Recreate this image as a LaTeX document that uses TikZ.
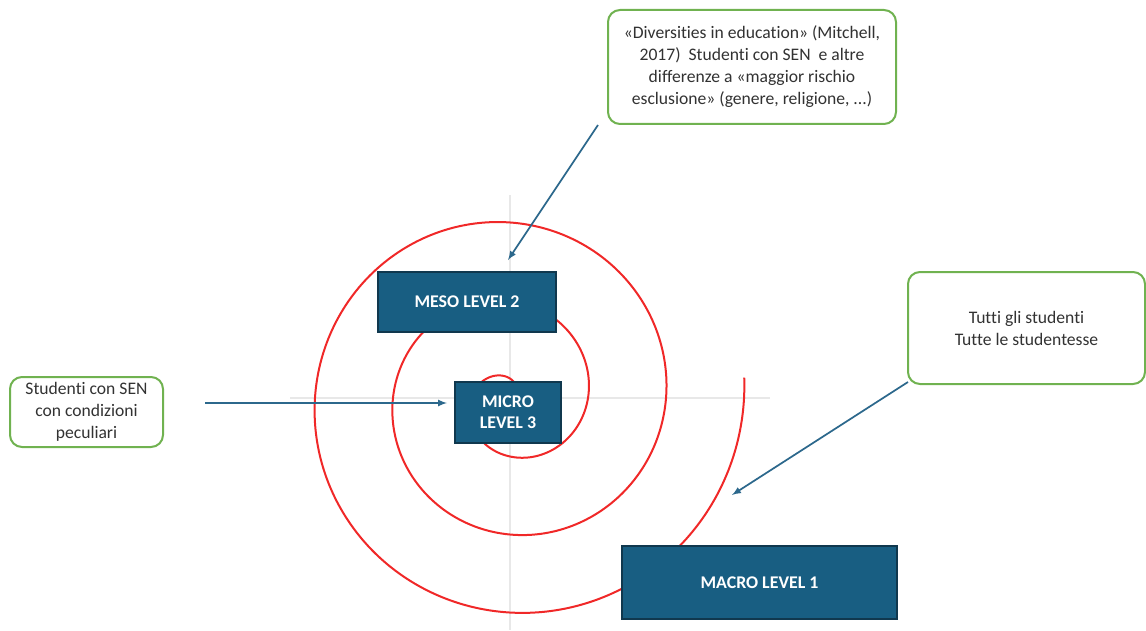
\documentclass[tikz,border=0pt]{standalone}
\usepackage{fontspec}
\setmainfont{Carlito}[Ligatures=NoCommon]
\usepackage{xcolor}
\usetikzlibrary{shapes,arrows,positioning}

\definecolor{levelblue}{RGB}{24,94,130}
\definecolor{leveledge}{RGB}{16,56,78}
\definecolor{notegreen}{RGB}{112,178,80}
\definecolor{notetext}{RGB}{50,50,50}
\definecolor{arrowblue}{RGB}{44,104,140}
\definecolor{axisgray}{RGB}{232,232,232}
\definecolor{spiralred}{RGB}{240,40,40}

\begin{document}
\begin{tikzpicture}[
    x=0.75pt, y=-0.75pt,
    level/.style={rectangle, draw=leveledge, line width=1.2pt, fill=levelblue, text=white, font=\bfseries\fontsize{13.4}{16}\selectfont, align=center, inner sep=0pt},
    note/.style={rectangle, rounded corners=9pt, draw=notegreen, line width=1.5pt, fill=white, text=notetext, font=\fontsize{13.2}{16.5}\selectfont, align=center, inner sep=0pt},
    arrow/.style={-latex, line width=1.3pt, draw=arrowblue},
    axis/.style={line width=1.5pt, draw=axisgray}
]
\useasboundingbox (0,0) rectangle (1146,631);

% axes and spiral
\coordinate (vtop) at (510,195);
\coordinate (vbot) at (510,630);
\coordinate (hleft) at (290,398);
\coordinate (hright) at (770,398);
\draw[axis] (vtop) -- (vbot);
\draw[axis] (hleft) -- (hright);
\draw[spiralred, line width=1.5pt] plot[domain=60:1085, samples=400, smooth, variable=\t]
    ({510+0.2167*\t*cos(\t)},{398-0.2167*\t*sin(\t)});

% levels
\node[level, minimum width=133.5pt, minimum height=45pt] (meso) at (467,302) {MESO LEVEL 2};
\node[level, minimum width=79.5pt, minimum height=45.75pt] (micro) at (508,412.5) {MICRO\\LEVEL 3};
\node[level, minimum width=206pt, minimum height=54.75pt] (macro) at (759.5,582.5) {MACRO LEVEL 1};

% notes
\node[note, minimum width=216pt, minimum height=85.5pt] (diversity) at (752,67)
    {«Diversities in education» (Mitchell,\\2017)\ \ Studenti con SEN\ \ e altre\\differenze a «maggior rischio\\esclusione» (genere, religione, ...)};
\node[note, minimum width=114.75pt, minimum height=52.5pt] (sen) at (86.5,412)
    {Studenti con SEN\\con condizioni\\peculiari};
\node[note, minimum width=177.75pt, minimum height=84pt] (all) at (1026.5,328)
    {Tutti gli studenti\\Tutte le studentesse};

\coordinate (diversity tail) at (598,125);
\coordinate (diversity head) at (508,260);
\coordinate (sen tail) at (205,403);
\coordinate (sen head) at (447,403);
\coordinate (all tail) at (908,382);
\coordinate (all head) at (732,495);
\draw[arrow] (diversity tail) -- (diversity head);
\draw[arrow] (sen tail) -- (sen head);
\draw[arrow] (all tail) -- (all head);
\end{tikzpicture}
\end{document}
